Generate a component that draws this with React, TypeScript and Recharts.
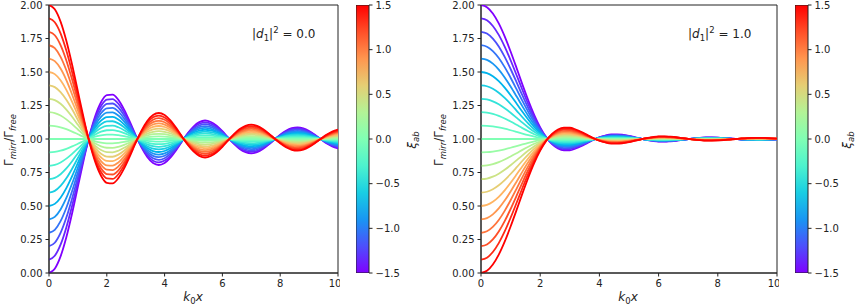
import React from 'react';
import { LineChart, Line, XAxis, YAxis, ReferenceArea, BarChart, Bar } from 'recharts';

// k0x sample positions
const kx = [
  0, 0.2, 0.4, 0.6, 0.8, 1, 1.2, 1.4, 1.6, 1.8, 2, 2.2, 2.4, 2.6, 2.8, 3, 3.2, 3.4, 3.6, 3.8,
  4, 4.2, 4.4, 4.6, 4.8, 5, 5.2, 5.4, 5.6, 5.8, 6, 6.2, 6.4, 6.6, 6.8, 7, 7.2, 7.4, 7.6, 7.8,
  8, 8.2, 8.4, 8.6, 8.8, 9, 9.2, 9.4, 9.6, 9.8, 10,
];

// xi_ab of each curve, purple -> red
const xiLevels = [
  -1.5, -1.35, -1.2, -1.05, -0.9, -0.75, -0.6, -0.45, -0.3, -0.15, 0,
  0.15, 0.3, 0.45, 0.6, 0.75, 0.9, 1.05, 1.2, 1.35, 1.5,
];

// the xi = 1.5 (red) curve
const redLeft = [
  2.0, 1.968, 1.876, 1.733, 1.554, 1.355, 1.157, 0.976, 0.829, 0.726, 0.673, 0.669, 0.708,
  0.781, 0.873, 0.972, 1.063, 1.135, 1.18, 1.194, 1.179, 1.139, 1.083, 1.019, 0.957, 0.907,
  0.874, 0.862, 0.873, 0.901, 0.942, 0.99, 1.036, 1.074, 1.098, 1.107, 1.098, 1.075, 1.042,
  1.004, 0.968, 0.938, 0.919, 0.913, 0.921, 0.941, 0.969, 1.0, 1.031, 1.055, 1.07,
];
const redRight = [
  0.0, 0.016, 0.063, 0.137, 0.234, 0.347, 0.469, 0.594, 0.713, 0.821, 0.913, 0.986, 1.038,
  1.071, 1.085, 1.084, 1.071, 1.052, 1.029, 1.006, 0.987, 0.974, 0.966, 0.965, 0.969, 0.976,
  0.987, 0.997, 1.007, 1.014, 1.019, 1.02, 1.017, 1.013, 1.007, 1.001, 0.995, 0.991, 0.988,
  0.988, 0.989, 0.992, 0.996, 1.0, 1.004, 1.007, 1.008, 1.009, 1.008, 1.005, 1.003,
];

const xTicks = [0, 2, 4, 6, 8, 10];
const yTicks = [0, 0.25, 0.5, 0.75, 1, 1.25, 1.5, 1.75, 2];
const cbTicks = [-1.5, -1, -0.5, 0, 0.5, 1, 1.5];
const cbRange = [-1.5, 1.5];
const d1Values = ['0.0', '1.0'];

const FONT = '"DejaVu Sans", sans-serif';
const INK = '#222';

// matplotlib "rainbow" colormap
const rainbow = (t: number) => {
  const c = (v: number) => Math.round(Math.max(0, Math.min(1, v)) * 255);
  const r = c(Math.abs(2 * t - 0.5));
  const g = c(Math.sin(Math.PI * t));
  const b = c(Math.cos((Math.PI * t) / 2));
  return `rgb(${r},${g},${b})`;
};

const buildRows = (red: number[]) =>
  kx.map((x, i) => {
    const row: Record<string, number> = { x };
    xiLevels.forEach((xi, j) => {
      row['s' + j] = 1 + (xi / 1.5) * (red[i] - 1);
    });
    return row;
  });

const tickStyle = { fontSize: 10, fill: INK, fontFamily: FONT };

const Panel = ({ left, width, red }: { left: number; width: number; red: number[] }) => (
  <div style={{ position: 'absolute', left, top: 0 }}>
    <LineChart width={width} height={307} data={buildRows(red)} margin={{ top: 5, right: 2, left: 0, bottom: 0 }}>
      <XAxis
        dataKey="x"
        type="number"
        domain={[0, 10]}
        ticks={xTicks}
        height={34}
        tickSize={3.5}
        tickMargin={3}
        stroke={INK}
        tick={tickStyle}
        allowDataOverflow
      />
      <YAxis
        type="number"
        domain={[0, 2]}
        ticks={yTicks}
        width={49}
        tickSize={3.5}
        tickMargin={3}
        stroke={INK}
        tick={tickStyle}
        tickFormatter={(v: number) => v.toFixed(2)}
        allowDataOverflow
      />
      {xiLevels.map((xi, j) => (
        <Line
          key={j}
          dataKey={'s' + j}
          type="monotone"
          dot={false}
          stroke={rainbow((xi + 1.5) / 3)}
          strokeWidth={1.8}
          isAnimationActive={false}
        />
      ))}
      <ReferenceArea x1={0} x2={10} y1={0} y2={2} fill="none" stroke={INK} strokeWidth={1} />
    </LineChart>
  </div>
);

const cbData = [{ k: 'xi', span: cbRange }];

const ColorBar = ({ left, id }: { left: number; id: string }) => (
  <div style={{ position: 'absolute', left, top: 0 }}>
    <BarChart width={54} height={307} data={cbData} barCategoryGap={0} margin={{ top: 5, right: 0, left: 0, bottom: 34 }}>
      <defs>
        <linearGradient id={id} x1="0" y1="1" x2="0" y2="0">
          {[0, 0.1, 0.2, 0.3, 0.4, 0.5, 0.6, 0.7, 0.8, 0.9, 1].map((t) => (
            <stop key={t} offset={t} stopColor={rainbow(t)} />
          ))}
        </linearGradient>
      </defs>
      <XAxis dataKey="k" type="category" hide />
      <YAxis
        orientation="right"
        type="number"
        domain={cbRange}
        ticks={cbTicks}
        width={41}
        tickSize={3.5}
        tickMargin={3}
        stroke={INK}
        axisLine={false}
        tick={{ ...tickStyle, textAnchor: 'start' }}
        tickFormatter={(v: number) => (v < 0 ? '\u2212' + Math.abs(v).toFixed(1) : v.toFixed(1))}
        allowDataOverflow
      />
      <Bar dataKey="span" fill={`url(#${id})`} stroke={INK} strokeWidth={1} isAnimationActive={false} />
    </BarChart>
  </div>
);

const YLabel = ({ x }: { x: number }) => (
  <text transform={`translate(${x},140) rotate(-90)`} textAnchor="middle" fontSize={12} fill={INK}>
    Γ<tspan fontStyle="italic" fontSize={8.5} dy={3}>mirr</tspan>
    <tspan dy={-3}>/Γ</tspan>
    <tspan fontStyle="italic" fontSize={8.5} dy={3}>free</tspan>
  </text>
);

const XiLabel = ({ x }: { x: number }) => (
  <text transform={`translate(${x},140) rotate(-90)`} textAnchor="middle" fontSize={12} fill={INK}>
    <tspan fontStyle="italic">ξ</tspan>
    <tspan fontStyle="italic" fontSize={8.5} dy={3}>ab</tspan>
  </text>
);

const XLabel = ({ x }: { x: number }) => (
  <text x={x} y={301} textAnchor="middle" fontSize={12} fill={INK}>
    <tspan fontStyle="italic">k</tspan>
    <tspan fontSize={8.5} dy={3}>0</tspan>
    <tspan fontStyle="italic" dy={-3}>x</tspan>
  </text>
);

const Tag = ({ x, value }: { x: number; value: string }) => (
  <text x={x} y={38} fontSize={12} fill={INK}>
    |<tspan fontStyle="italic">d</tspan>
    <tspan fontSize={8.5} dy={3}>1</tspan>
    <tspan dy={-3}>|</tspan>
    <tspan fontSize={8.5} dy={-5}>2</tspan>
    <tspan dy={5}>{` = ${value}`}</tspan>
  </text>
);

export default function App() {
  return (
    <div style={{ position: 'absolute', left: 0, top: 0, width: 858, height: 307, background: '#fff', fontFamily: FONT, overflow: 'hidden' }}>
      <Panel left={0} width={340} red={redLeft} />
      <ColorBar left={356} id="cbLeft" />
      <Panel left={432} width={347} red={redRight} />
      <ColorBar left={795} id="cbRight" />
      <svg width={858} height={307} style={{ position: 'absolute', left: 0, top: 0, pointerEvents: 'none', fontFamily: FONT }}>
        <YLabel x={13} />
        <YLabel x={443} />
        <XiLabel x={416} />
        <XiLabel x={851} />
        <XLabel x={193} />
        <XLabel x={628} />
        <Tag x={252} value={d1Values[0]} />
        <Tag x={688} value={d1Values[1]} />
      </svg>
    </div>
  );
}
